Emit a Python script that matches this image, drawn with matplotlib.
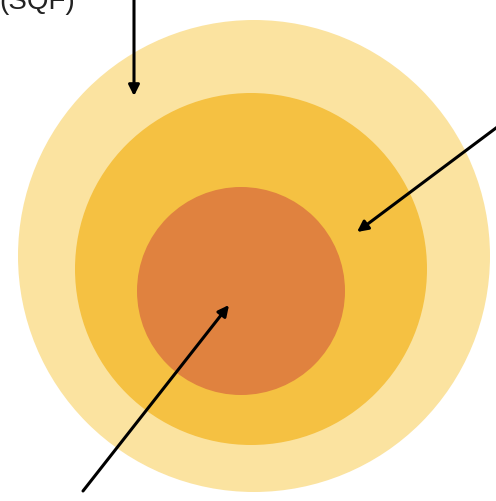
import matplotlib
matplotlib.use("Agg")
import matplotlib.pyplot as plt
from matplotlib.patches import Circle

# Concentric layers (outer -> inner), in pixel-space of the picture
layer_names = ["outer", "middle", "inner"]
layer_cx = [254, 251, 241]
layer_cy = [257, 270, 292]
layer_r = [236, 176, 104]
layer_colors = ["#FBE3A0", "#F5C142", "#E0823F"]

# Arrows: tail -> tip
arrow_tails = [(134, -5), (500, 126), (83, 492)]
arrow_tips = [(134, 97), (357, 233), (229, 306)]

label_text = "(SQF)"

W, H = 496, 502
fig = plt.figure(figsize=(W / 100, H / 100), dpi=100)
ax = fig.add_axes([0, 0, 1, 1])
ax.set_xlim(0, W)
ax.set_ylim(H, 0)
ax.set_aspect("equal")
ax.axis("off")

for cx, cy, r, c in zip(layer_cx, layer_cy, layer_r, layer_colors):
    ax.add_patch(Circle((cx, cy), r, facecolor=c, edgecolor="none"))

for tail, tip in zip(arrow_tails, arrow_tips):
    ax.annotate("", xy=tip, xytext=tail,
                arrowprops=dict(arrowstyle="-|>", lw=2.2, color="black",
                                mutation_scale=16, shrinkA=0, shrinkB=0))

ax.text(-1, 9, label_text, fontsize=20, family="Liberation Sans",
        color="#222222", va="baseline", ha="left")

fig.savefig("out.png", dpi=100)
